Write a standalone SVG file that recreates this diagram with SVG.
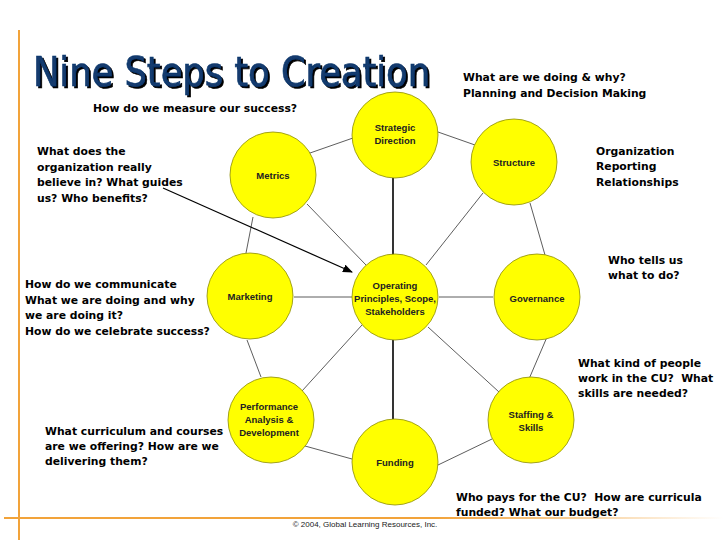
<svg xmlns="http://www.w3.org/2000/svg" width="728" height="546" viewBox="0 0 728 546">
<defs>
<linearGradient id="hfade" x1="0" y1="0" x2="1" y2="0">
<stop offset="0" stop-color="#F2A33A"/>
<stop offset="0.6" stop-color="#F2A33A"/>
<stop offset="1" stop-color="#F2A33A" stop-opacity="0"/>
</linearGradient>
<filter id="shadow" x="-5%" y="-20%" width="110%" height="150%">
<feDropShadow dx="2" dy="2" stdDeviation="0.4" flood-color="#000" flood-opacity="1"/>
</filter>
<marker id="arr" markerWidth="10" markerHeight="8" refX="9" refY="4" orient="auto" markerUnits="userSpaceOnUse">
<path d="M0,0 L10,4 L0,8 z" fill="#000"/>
</marker>
</defs>
<style>
.node{fill:#FFFF00;stroke:#8C8C00;stroke-width:0.8}
.nt{font-family:"Liberation Sans Narrow","Liberation Sans",Arial,sans-serif;font-weight:bold;font-size:9.5px;fill:#222;text-anchor:middle}
.q{font-family:"DejaVu Sans",Verdana,sans-serif;font-weight:bold;font-size:10.8px;fill:#000}
.c{stroke:#333;stroke-width:0.8;fill:none}
.cb{stroke:#000;stroke-width:1.6;fill:none}
</style>
<rect width="728" height="546" fill="#FFFFFF"/>
<line x1="19" y1="30" x2="19" y2="540" stroke="#F2A33A" stroke-width="2"/>
<rect x="4" y="517" width="720" height="2" fill="url(#hfade)"/>
<text x="33" y="86" font-family="'DejaVu Sans Condensed','DejaVu Sans',sans-serif" font-size="40" fill="#123A6E" stroke="#123A6E" stroke-width="0.6" textLength="397" lengthAdjust="spacingAndGlyphs" filter="url(#shadow)">Nine Steps to Creation</text>
<g id="connectors">
<line class="c" x1="310" y1="153" x2="353" y2="138"/>
<line class="c" x1="438" y1="132" x2="475" y2="145"/>
<line class="cb" x1="393" y1="178" x2="393" y2="255"/>
<line class="c" x1="253" y1="217" x2="246" y2="253"/>
<line class="c" x1="307" y1="204" x2="366" y2="265"/>
<line class="c" x1="483" y1="193" x2="426" y2="265"/>
<line class="c" x1="530" y1="203" x2="545" y2="255"/>
<line class="c" x1="294" y1="297" x2="352" y2="297"/>
<line class="c" x1="439" y1="297" x2="493" y2="297"/>
<line class="c" x1="247" y1="340" x2="261" y2="377"/>
<line class="c" x1="362" y1="325" x2="302" y2="391"/>
<line class="c" x1="428" y1="327" x2="499" y2="392"/>
<line class="c" x1="547" y1="337" x2="529" y2="379"/>
<line class="cb" x1="393" y1="340" x2="393" y2="419"/>
<line class="c" x1="305" y1="446" x2="352" y2="459"/>
<line class="c" x1="438" y1="465" x2="492" y2="439"/>
<line stroke="#000" stroke-width="1.2" x1="163" y1="188" x2="352" y2="272" marker-end="url(#arr)"/>
</g>
<g id="strategic"><circle class="node" cx="395" cy="135" r="43"/><text class="nt" x="395" y="131">Strategic</text><text class="nt" x="395" y="144">Direction</text></g>
<g id="metrics"><circle class="node" cx="273" cy="175" r="43"/><text class="nt" x="273" y="179">Metrics</text></g>
<g id="structure"><circle class="node" cx="514" cy="162" r="43"/><text class="nt" x="514" y="166">Structure</text></g>
<g id="marketing"><circle class="node" cx="250" cy="296" r="43"/><text class="nt" x="250" y="300">Marketing</text></g>
<g id="operating"><circle class="node" cx="395" cy="297" r="43"/><text class="nt" x="395" y="289">Operating</text><text class="nt" x="395" y="302">Principles, Scope,</text><text class="nt" x="395" y="315">Stakeholders</text></g>
<g id="governance"><circle class="node" cx="537" cy="297" r="43"/><text class="nt" x="537" y="302">Governance</text></g>
<g id="performance"><circle class="node" cx="271" cy="420" r="43"/><text class="nt" x="269" y="410">Performance</text><text class="nt" x="269" y="423">Analysis &amp;</text><text class="nt" x="269" y="436">Development</text></g>
<g id="staffing"><circle class="node" cx="531" cy="420" r="43"/><text class="nt" x="531" y="418">Staffing &amp;</text><text class="nt" x="531" y="431">Skills</text></g>
<g id="funding"><circle class="node" cx="395" cy="462" r="43"/><text class="nt" x="395" y="466">Funding</text></g>
<g id="notes">
<text class="q" x="93" y="112">How do we measure our success?</text>
<text class="q" x="37" y="155">What does the</text>
<text class="q" x="37" y="171">organization really</text>
<text class="q" x="37" y="186">believe in? What guides</text>
<text class="q" x="37" y="202">us? Who benefits?</text>
<text class="q" x="25" y="288">How do we communicate</text>
<text class="q" x="25" y="304">What we are doing and why</text>
<text class="q" x="25" y="319">we are doing it?</text>
<text class="q" x="25" y="335">How do we celebrate success?</text>
<text class="q" x="45" y="435">What curriculum and courses</text>
<text class="q" x="45" y="450">are we offering? How are we</text>
<text class="q" x="45" y="465">delivering them?</text>
<text class="q" x="463" y="81">What are we doing &amp; why?</text>
<text class="q" x="463" y="97">Planning and Decision Making</text>
<text class="q" x="596" y="155">Organization</text>
<text class="q" x="596" y="170">Reporting</text>
<text class="q" x="596" y="186">Relationships</text>
<text class="q" x="608" y="264">Who tells us</text>
<text class="q" x="608" y="279">what to do?</text>
<text class="q" x="578" y="367">What kind of people</text>
<text class="q" x="578" y="382" xml:space="preserve">work in the CU?  What</text>
<text class="q" x="578" y="397">skills are needed?</text>
<text class="q" x="456" y="501" xml:space="preserve">Who pays for the CU?  How are curricula</text>
<text class="q" x="456" y="516">funded? What our budget?</text>
<text x="365" y="527" font-family="'Liberation Sans',Arial,sans-serif" font-size="8" fill="#222" text-anchor="middle">© 2004, Global Learning Resources, Inc.</text>
</g>
</svg>
